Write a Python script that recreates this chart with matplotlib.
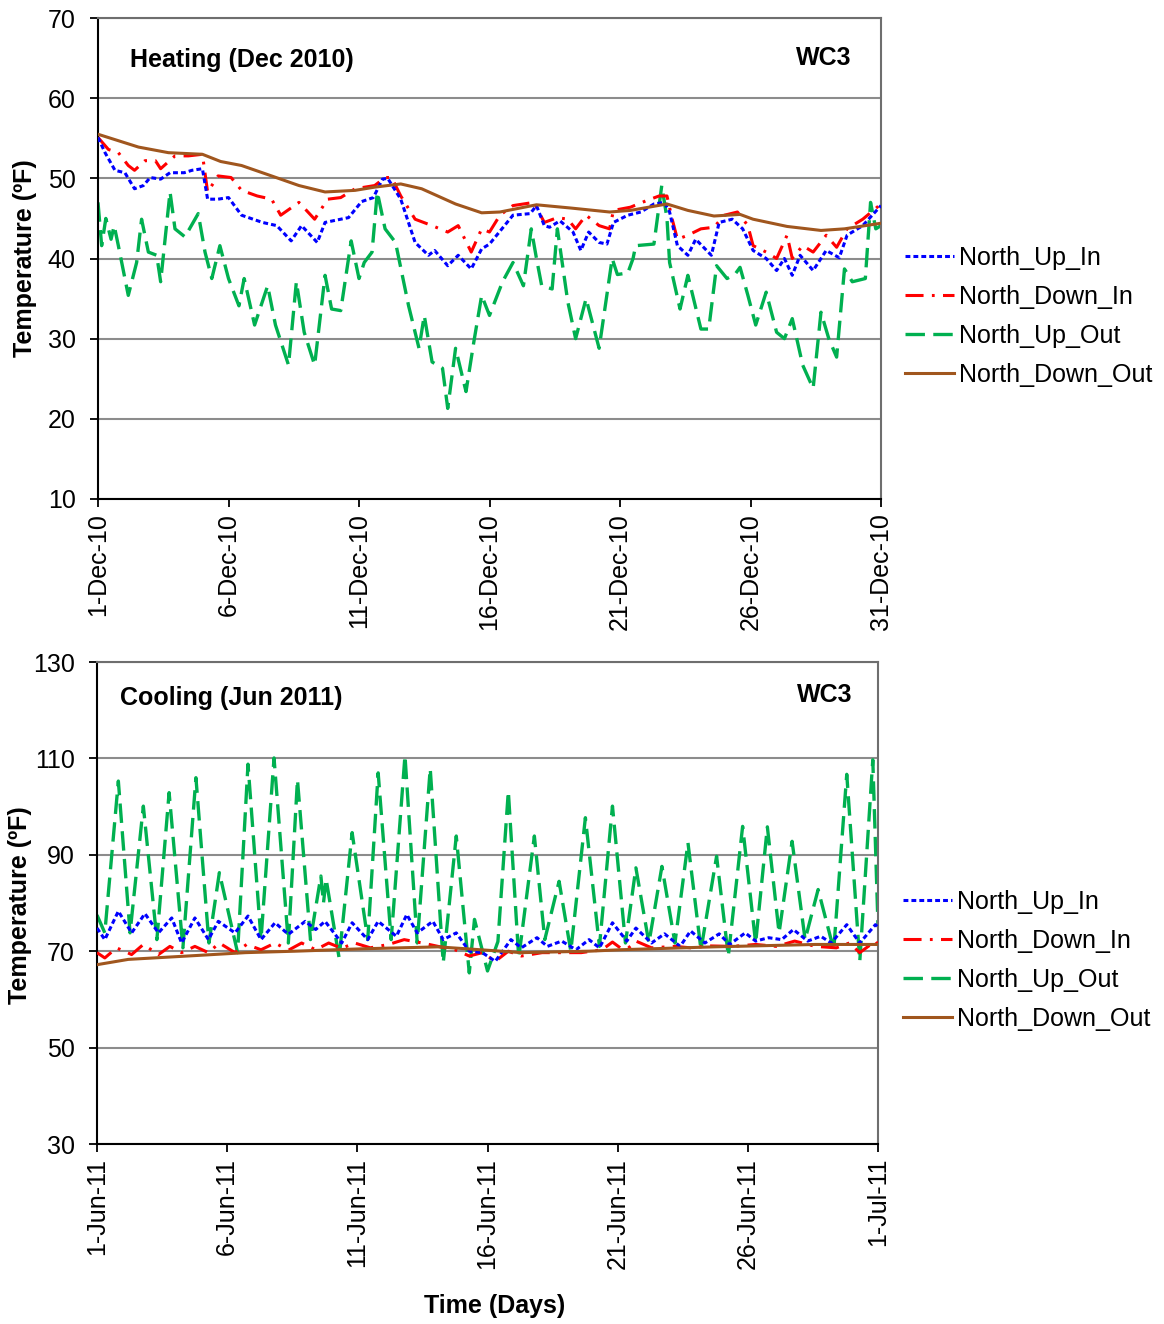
import matplotlib
matplotlib.use("Agg")
import matplotlib.pyplot as plt

plt.rcParams['font.family'] = ['Liberation Sans', 'DejaVu Sans']
plt.rcParams['lines.scale_dashes'] = False

# ---------------- Heating, Dec 2010 (day offset from 1-Dec) ----------------
dec_up_in_t = [0, 0.27, 0.65, 1.03, 1.4, 1.74, 2.0, 2.4, 2.76, 3.3, 3.6, 4.0, 4.2, 4.6, 5.0,
               5.5, 6.3, 6.85, 7.4, 7.8, 8.4, 8.7, 9.6, 10.1, 10.55, 10.9, 11.1, 11.6, 12.15,
               12.66, 12.9, 13.4, 13.8, 14.3, 14.7, 15.0, 15.9, 16.56, 16.8, 17.1, 17.3, 17.7,
               18.2, 18.5, 18.8, 19.2, 19.5, 19.75, 20.3, 20.8, 21.3, 21.7, 21.9, 22.2, 22.6,
               22.9, 23.5, 23.8, 24.3, 24.7, 25.1, 25.6, 26.0, 26.3, 26.6, 26.9, 27.4, 27.9,
               28.4, 28.7, 29.3, 30]
dec_up_in = [55.1, 53.2, 51.0, 50.7, 48.7, 49.1, 50.1, 49.9, 50.7, 50.7, 51.0, 51.2, 47.4, 47.4, 47.6,
             45.4, 44.5, 44.1, 42.2, 44.1, 42.0, 44.5, 45.1, 47.1, 47.6, 49.9, 50.0, 47.4, 42.0,
             40.4, 41.0, 39.1, 40.4, 38.7, 41.2, 41.8, 45.4, 45.6, 46.6, 44.1, 43.9, 44.7,
             43.3, 41.0, 43.3, 42.0, 41.8, 44.5, 45.4, 45.8, 46.8, 47.0, 45.8, 41.6, 40.4,
             42.4, 40.4, 44.5, 44.9, 43.7, 41.0, 40.0, 38.5, 40.0, 37.9, 40.4, 38.5, 41.0,
             40.1, 42.9, 44.1, 46.6]

dec_down_in_t = [0, 0.4, 0.78, 1.16, 1.4, 1.8, 2.2, 2.4, 2.95, 3.46, 4.0, 4.2, 4.6, 5.1, 5.5, 6.1,
                 6.65, 7.0, 7.7, 8.3, 8.8, 9.3, 9.85, 10.6, 11.0, 11.25, 11.6, 12.15, 12.8, 13.4,
                 13.8, 14.3, 14.7, 15.0, 15.4, 15.9, 16.7, 17.1, 17.6, 18.0, 18.3, 18.7, 19.2,
                 19.6, 19.75, 20.4, 21.0, 21.5, 21.8, 22.0, 22.2, 22.6, 23.1, 23.6, 24.0, 24.5,
                 24.9, 25.1, 25.6, 26.0, 26.4, 26.6, 27.0, 27.4, 27.9, 28.3, 28.7, 29.3, 30]
dec_down_in = [55.1, 53.6, 53.2, 51.6, 51.0, 52.2, 52.2, 51.2, 52.8, 52.8, 53.0, 48.3, 50.3, 50.1, 48.5, 47.8,
               47.4, 45.4, 47.0, 44.9, 47.4, 47.6, 48.7, 49.1, 50.1, 50.1, 47.8, 44.9, 44.1, 43.3,
               44.1, 40.8, 43.7, 43.3, 45.4, 46.6, 47.0, 44.5, 45.1, 44.9, 43.7, 45.4, 44.1,
               43.7, 46.0, 46.4, 47.2, 47.8, 47.8, 44.9, 42.4, 42.9, 43.7, 43.9, 45.4, 45.8,
               44.1, 41.6, 40.8, 40.0, 42.9, 40.0, 41.6, 40.8, 42.9, 41.4, 43.7, 44.9, 46.8]

dec_up_out_t = [0, 0.14, 0.3, 0.5, 0.62, 0.78, 1.16, 1.48, 1.67, 1.93, 2.25, 2.4, 2.57, 2.76, 2.95,
                3.33, 3.84, 4.1, 4.36, 4.67, 5.0, 5.4, 5.6, 6.0, 6.5, 6.8, 7.3, 7.6, 7.9, 8.3, 8.7,
                8.95, 9.3, 9.7, 10.0, 10.2, 10.5, 10.7, 11.0, 11.4, 11.9, 12.3, 12.5, 12.8, 13.2,
                13.4, 13.7, 14.1, 14.4, 14.7, 15.0, 15.5, 15.9, 16.3, 16.6, 16.8, 17.0, 17.4,
                17.6, 18.0, 18.3, 18.7, 19.2, 19.7, 19.9, 20.3, 20.5, 20.6, 21.3, 21.6, 21.8,
                21.9, 22.3, 22.6, 23.1, 23.4, 23.7, 24.1, 24.4, 24.6, 24.9, 25.2, 25.6, 26.0,
                26.3, 26.6, 27.0, 27.4, 27.7, 28.0, 28.3, 28.6, 28.9, 29.4, 29.6, 29.8, 30]
dec_up_out = [47.0, 41.6, 45.0, 42.4, 44.1, 41.6, 35.4, 39.5, 44.9, 40.8, 40.4, 37.1, 42.4, 48.3, 43.7,
              42.7, 45.6, 40.8, 37.5, 41.6, 37.5, 34.1, 37.5, 31.7, 36.6, 31.7, 26.7, 37.1, 30.8, 26.7, 37.9,
              33.7, 33.5, 42.2, 37.5, 39.5, 40.8, 48.3, 43.7, 42.0, 34.1, 28.8, 32.9, 27.1, 26.3,
              21.3, 28.8, 23.4, 29.6, 35.4, 32.9, 37.1, 39.5, 36.6, 43.7, 40.0, 36.6, 36.2,
              43.7, 34.6, 30.0, 35.0, 28.8, 40.0, 38.0, 38.2, 40.0, 41.6, 41.8, 49.1, 45.0,
              39.5, 33.7, 37.9, 31.2, 31.2, 39.1, 37.5, 38.0, 38.9, 35.4, 31.7, 35.8, 30.8,
              30.0, 32.5, 26.7, 23.8, 33.3, 30.0, 27.7, 38.7, 37.1, 37.5, 47.0, 43.7, 44.1]

dec_down_out_t = [0, 1.55, 2.7, 4.0, 4.7, 5.5, 6.65, 7.7, 8.7, 9.85, 10.6, 11.6, 12.4, 13.7, 14.7,
                  15.4, 16.8, 18.1, 19.6, 20.4, 21.8, 22.6, 23.6, 24.6, 25.1, 26.4, 27.7, 28.6, 30]
dec_down_out = [55.5, 53.9, 53.2, 53.0, 52.1, 51.6, 50.3, 49.1, 48.3, 48.5, 48.9, 49.3, 48.7, 46.8, 45.7,
                45.8, 46.7, 46.3, 45.8, 46.0, 46.8, 46.0, 45.3, 45.5, 44.9, 44.0, 43.5, 43.7, 44.4]

# ---------------- Cooling, Jun 2011 (day offset from 1-Jun) ----------------
jun_up_in_t = [0, 0.3, 0.82, 1.33, 1.84, 2.36, 2.87, 3.25, 3.76, 4.28, 4.66, 5.3, 5.8, 6.3, 6.84, 7.35,
               8.0, 8.4, 8.76, 9.4, 9.8, 10.4, 10.8, 11.5, 11.9, 12.3, 12.9, 13.3, 13.8, 14.3, 14.8,
               15.3, 15.9, 16.3, 16.9, 17.3, 17.85, 18.4, 18.9, 19.3, 19.8, 20.35, 20.7, 21.3, 21.8,
               22.4, 22.8, 23.35, 23.9, 24.3, 24.9, 25.3, 25.8, 26.3, 26.75, 27.3, 27.8, 28.2, 28.8,
               29.3, 29.9, 30]
jun_up_in = [74.8, 72.4, 78.3, 73.8, 77.8, 73.8, 76.9, 71.7, 76.9, 72.4, 76.2, 73.8, 77.3, 72.4, 75.9, 73.5,
             76.2, 74.5, 76.2, 71.7, 75.9, 72.4, 76.2, 73.1, 77.6, 73.8, 76.2, 72.4, 73.8, 70.0, 69.7,
             67.9, 72.4, 70.7, 72.8, 71.0, 72.1, 70.3, 72.4, 70.7, 75.9, 72.1, 74.8, 71.7, 73.6,
             71.0, 74.2, 71.7, 73.6, 71.4, 73.8, 72.1, 72.8, 72.4, 74.5, 72.1, 73.1, 71.7, 75.5,
             71.7, 75.5, 75.0]

jun_down_in_t = [0, 0.3, 0.75, 1.33, 1.78, 2.36, 2.8, 3.25, 3.76, 4.28, 4.7, 5.3, 5.75, 6.3, 6.84, 7.35,
                 7.86, 8.4, 8.9, 9.4, 9.9, 10.5, 11.2, 11.8, 12.5, 13.1, 13.75, 14.3, 14.8, 15.3, 15.8,
                 16.3, 17.1, 17.85, 18.6, 19.4, 19.8, 20.1, 20.4, 20.7, 21.3, 22.2, 22.8, 23.5, 24.4,
                 25.3, 26.1, 26.8, 27.6, 28.4, 28.9, 29.3, 29.9, 30]
jun_down_in = [69.7, 68.6, 70.7, 69.3, 71.4, 69.3, 71.0, 69.7, 71.0, 69.7, 71.7, 69.7, 71.4, 70.3, 71.7, 70.2,
               71.7, 70.3, 71.7, 70.6, 71.7, 70.7, 71.4, 72.4, 71.7, 71.0, 70.3, 69.0, 69.7, 67.9, 70.0,
               69.0, 69.7, 69.7, 69.7, 70.3, 71.9, 70.7, 70.6, 72.1, 70.7, 71.0, 70.7, 71.1, 71.0,
               71.4, 71.0, 72.1, 71.0, 70.7, 71.7, 69.7, 72.1, 71.4]

jun_up_out_t = [0, 0.3, 0.82, 1.27, 1.78, 2.3, 2.77, 3.3, 3.8, 4.3, 4.7, 5.4, 5.8, 6.3, 6.8, 7.35, 7.7,
                8.2, 8.6, 8.7, 8.8, 9.3, 9.8, 10.4, 10.8, 11.3, 11.83, 12.3, 12.8, 13.3, 13.8, 14.3,
                14.5, 15.0, 15.4, 15.8, 16.2, 16.8, 17.2, 17.75, 18.2, 18.76, 19.3, 19.8, 20.3, 20.7,
                21.2, 21.7, 22.2, 22.7, 23.2, 23.8, 24.25, 24.8, 25.3, 25.75, 26.2, 26.7, 27.2, 27.7,
                28.3, 28.8, 29.3, 29.8, 30]
jun_up_out = [77.5, 73.8, 105.3, 73.8, 100.1, 72.4, 102.9, 70.7, 106.0, 71.7, 86.3, 69.7, 108.8, 72.4, 110.1, 71.7, 105.6,
              72.4, 85.6, 80.0, 85.0, 68.6, 94.6, 72.4, 107.0, 72.4, 110.6, 71.7, 107.9, 67.6, 93.9, 65.5,
              76.6, 65.9, 72.0, 103.2, 68.6, 93.9, 72.4, 84.5, 70.0, 97.7, 71.0, 100.1, 71.7, 87.3,
              71.7, 87.6, 71.7, 92.5, 70.3, 89.7, 69.0, 95.9, 71.7, 95.8, 73.8, 92.8, 72.4, 82.8,
              70.3, 106.7, 67.9, 109.7, 75.2]

jun_down_out_t = [0, 1.2, 3.8, 5.7, 7.6, 10.2, 13.1, 15.0, 16.3, 18.9, 20.1, 23.7, 27.6, 30]
jun_down_out = [67.2, 68.3, 69.1, 69.7, 70.0, 70.5, 70.9, 70.2, 69.7, 70.0, 70.3, 70.9, 71.4, 71.4]

tick_days = [0, 5, 10, 15, 20, 25, 30]
dec_labels = ['1-Dec-10', '6-Dec-10', '11-Dec-10', '16-Dec-10', '21-Dec-10', '26-Dec-10', '31-Dec-10']
jun_labels = ['1-Jun-11', '6-Jun-11', '11-Jun-11', '16-Jun-11', '21-Jun-11', '26-Jun-11', '1-Jul-11']
series_names = ['North_Up_In', 'North_Down_In', 'North_Up_Out', 'North_Down_Out']

BLUE = '#0000FF'
RED = '#FF0000'
GREEN = '#00B050'
BROWN = '#A0561E'
FS = 18

fig = plt.figure(figsize=(11.64, 13.24), dpi=100)
ax1 = fig.add_axes([98/1164, 1 - 499/1324, 783/1164, 481/1324])
ax2 = fig.add_axes([97/1164, 1 - 1144/1324, 781/1164, 482/1324])


def draw_panel(ax, data, ylim, yticks, labels, title, leg_anchor):
    (t1, v1), (t2, v2), (t3, v3), (t4, v4) = data
    ax.plot(t1, v1, color=BLUE, lw=2.2, dashes=(3.5, 2.2), label=series_names[0], zorder=4)
    ax.plot(t2, v2, color=RED, lw=2.2, dashes=(13, 6, 2, 6), label=series_names[1], zorder=3)
    ax.plot(t3, v3, color=GREEN, lw=2.4, dashes=(14, 6), label=series_names[2], zorder=2)
    ax.plot(t4, v4, color=BROWN, lw=2.2, label=series_names[3], zorder=5)

    ax.set_xlim(0, 30)
    ax.set_ylim(*ylim)
    ax.set_yticks(yticks)
    ax.set_xticks(tick_days)
    ax.set_xticklabels(labels, rotation=90)
    ax.tick_params(axis='both', labelsize=FS, direction='out', length=6, width=1.3)
    ax.tick_params(axis='y', pad=10)
    ax.tick_params(axis='x', pad=4)
    ax.grid(axis='y', color='#8c8c8c', lw=1.5)
    ax.set_axisbelow(True)
    for side in ['left', 'bottom']:
        ax.spines[side].set_color('black')
        ax.spines[side].set_linewidth(1.5)
    for side in ['top', 'right']:
        ax.spines[side].set_color('#6e6e6e')
        ax.spines[side].set_linewidth(1.5)

    ax.text(title[0], title[1], title[2], transform=ax.transAxes, fontsize=FS,
            fontweight='bold', ha='left', va='center')
    ax.text(title[3], title[4], 'WC3', transform=ax.transAxes, fontsize=FS,
            fontweight='bold', ha='right', va='center')

    ax.legend(loc='center left', bbox_to_anchor=leg_anchor, frameon=False, fontsize=FS,
              handlelength=1.95, handletextpad=0.2, labelspacing=0.6,
              borderpad=0, borderaxespad=0)


draw_panel(ax1,
           [(dec_up_in_t, dec_up_in), (dec_down_in_t, dec_down_in),
            (dec_up_out_t, dec_up_out), (dec_down_out_t, dec_down_out)],
           (10, 70), range(10, 71, 10), dec_labels,
           (0.041, 0.912, 'Heating (Dec 2010)', 0.962, 0.916), (1.031, 0.379))
draw_panel(ax2,
           [(jun_up_in_t, jun_up_in), (jun_down_in_t, jun_down_in),
            (jun_up_out_t, jun_up_out), (jun_down_out_t, jun_down_out)],
           (30, 130), range(30, 131, 20), jun_labels,
           (0.029, 0.925, 'Cooling (Jun 2011)', 0.967, 0.931), (1.032, 0.381))

fig.text(25/1164, 1 - 258/1324, 'Temperature (ºF)', rotation=90, fontsize=FS,
         fontweight='bold', ha='center', va='center')
fig.text(20/1164, 1 - 905/1324, 'Temperature (ºF)', rotation=90, fontsize=FS,
         fontweight='bold', ha='center', va='center')
fig.text(495/1164, 1 - 1306/1324, 'Time (Days)', fontsize=FS,
         fontweight='bold', ha='center', va='center')

fig.savefig('out.png', dpi=100)
